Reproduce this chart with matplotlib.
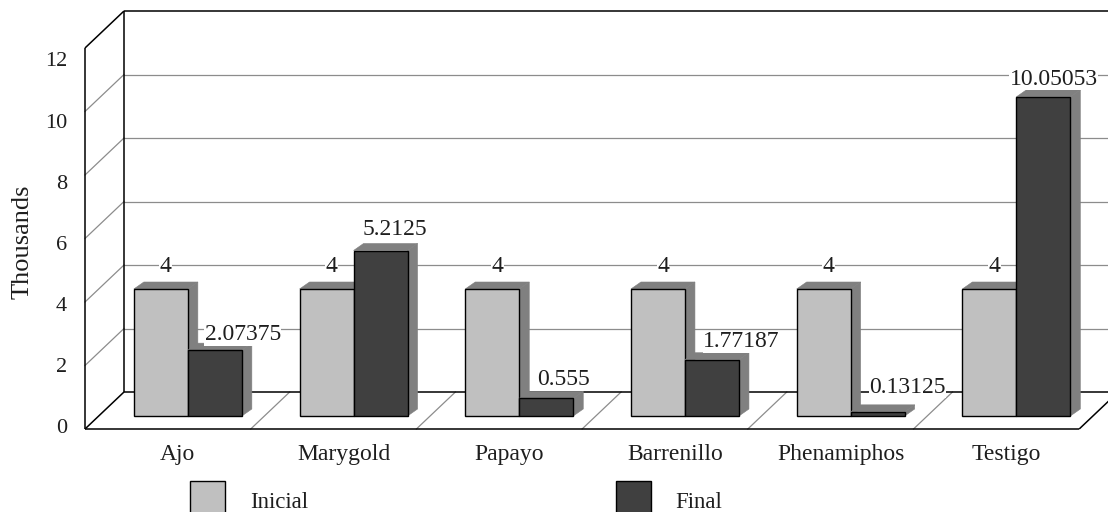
import matplotlib
matplotlib.use("Agg")
import matplotlib.pyplot as plt
from matplotlib.patches import Polygon, Rectangle

# ---- data -------------------------------------------------------------
categories = ["Ajo", "Marygold", "Papayo", "Barrenillo", "Phenamiphos", "Testigo"]
series_names = ["Inicial", "Final"]
inicial = [4, 4, 4, 4, 4, 4]
final = [2.07375, 5.2125, 0.555, 1.77187, 0.13125, 10.05053]
yticks = [0, 2, 4, 6, 8, 10, 12]
y_title = "Thousands"

# ---- look -------------------------------------------------------------
FONT = ["Liberation Serif", "DejaVu Serif"]
TXT = "#1e1e1e"
C_INI = "#c0c0c0"
C_FIN = "#404040"
C_SHADE = "#808080"
C_GRID = "#8c8c8c"

W, H = 1108, 512                # figure size in pixels (dpi 100)
PX_X, PX_Y = 165.7, 31.75       # pixels per category / per thousand
X0, Y0 = 85, 429                # pixel position of the front origin

# oblique depth of the walls and bars, given in pixels, converted to data units
WALL_DX, WALL_DY = 39 / PX_X, 37 / PX_Y
BAR_FX, BAR_FY = 20 / PX_X, 13 / PX_Y
BAR_W = 54 / PX_X
BAR_DX, BAR_DY = 10 / PX_X, 7 / PX_Y

# value-label nudges (pixels) relative to the bar's front top centre
ini_nudge = (5, 17)
fin_nudge_x = [28, 14.5, 17, 29.5, 30, 10.5]
fin_nudge_y = [10, 15.5, 13.5, 12.5, 19, 12]

fig = plt.figure(figsize=(W / 100, H / 100), dpi=100)
ax = fig.add_axes([0, 0, 1, 1])
ax.set_xlim(-X0 / PX_X, (W - X0) / PX_X)
ax.set_ylim(-(H - Y0) / PX_Y, Y0 / PX_Y)
ax.axis("off")

n = len(categories)
ymax = yticks[-1]

# ---- walls, floor and gridlines ----------------------------------------
for v in yticks[1:-1]:
    ax.plot([0, WALL_DX], [v, v + WALL_DY], color=C_GRID, lw=0.9, zorder=1)
    ax.plot([WALL_DX, n + WALL_DX + 1], [v + WALL_DY, v + WALL_DY],
            color=C_GRID, lw=0.9, zorder=1)
for i in range(1, n):
    ax.plot([i, i + WALL_DX], [0, WALL_DY], color=C_GRID, lw=0.9, zorder=1)

frame = dict(color="black", lw=1.1, zorder=2, solid_capstyle="butt")
ax.plot([0, 0], [0, ymax], **frame)
ax.plot([0, WALL_DX], [ymax, ymax + WALL_DY], **frame)
ax.plot([WALL_DX, WALL_DX], [WALL_DY, ymax + WALL_DY], **frame)
ax.plot([WALL_DX, n + WALL_DX + 1], [ymax + WALL_DY, ymax + WALL_DY], **frame)
ax.plot([0, n], [0, 0], **frame)
ax.plot([0, WALL_DX], [0, WALL_DY], **frame)
ax.plot([WALL_DX, n + WALL_DX + 1], [WALL_DY, WALL_DY], **frame)
ax.plot([n, n + WALL_DX], [0, WALL_DY], **frame)


# ---- bars ------------------------------------------------------------
def bar3d(x_left, value, color, z):
    xl = x_left + BAR_FX
    xr = xl + BAR_W
    yb, yt = BAR_FY, value + BAR_FY
    side = [(xr, yb), (xr + BAR_DX, yb + BAR_DY), (xr + BAR_DX, yt + BAR_DY), (xr, yt)]
    top = [(xl, yt), (xl + BAR_DX, yt + BAR_DY), (xr + BAR_DX, yt + BAR_DY), (xr, yt)]
    for pts in (side, top):
        ax.add_patch(Polygon(pts, closed=True, fc=C_SHADE, ec=C_SHADE, lw=0.4, zorder=z))
    ax.add_patch(Rectangle((xl, yb), BAR_W, value, fc=color, ec="black",
                           lw=1.0, zorder=z + 0.5))
    return xl + BAR_W / 2, yt


label_kw = dict(textcoords="offset pixels", ha="center", va="baseline",
                fontsize=17, family=FONT, color=TXT, zorder=20,
                bbox=dict(fc="white", ec="none", pad=0.3))

for i in range(n):
    cx, cy = bar3d(i + 0.5 - BAR_W, inicial[i], C_INI, 3 + i)
    ax.annotate(str(inicial[i]), xy=(cx, cy), xytext=ini_nudge, **label_kw)
    cx, cy = bar3d(i + 0.5, final[i], C_FIN, 3.6 + i)
    ax.annotate(str(final[i]), xy=(cx, cy),
                xytext=(fin_nudge_x[i], fin_nudge_y[i]), **label_kw)

# category names under the floor
for i, name in enumerate(categories):
    ax.text(i + 0.5 + 10 / PX_X, -31 / PX_Y, name, ha="center", va="baseline",
            fontsize=17, family=FONT, color=TXT)

# ---- value axis labels -------------------------------------------------
tick_ax = fig.add_axes([X0 / W, (H - 426) / H, 0.005, (426 - 59.5) / H])
tick_ax.set_ylim(yticks[0], yticks[-1])
tick_ax.set_yticks(yticks)
tick_ax.set_yticklabels([str(t) for t in yticks], family=FONT, fontsize=16, color=TXT)
tick_ax.tick_params(axis="y", length=0, pad=13)
tick_ax.set_xticks([])
for s in tick_ax.spines.values():
    s.set_visible(False)
tick_ax.patch.set_visible(False)

fig.text(23 / W, 1 - 242 / H, y_title, rotation=90, ha="center", va="center",
         fontsize=19, family=FONT, color=TXT)

# ---- legend ------------------------------------------------------------
for name, col, bx, tx in zip(series_names, [C_INI, C_FIN], [190, 616], [250, 675]):
    fig.add_artist(Rectangle((bx / W, 1 - 516 / H), 35 / W, 35 / H, fc=col, ec="black",
                             lw=1.0, transform=fig.transFigure, clip_on=False))
    fig.text(tx / W, 1 - 508 / H, name, ha="left", va="baseline",
             fontsize=16.5, family=FONT, color=TXT)

fig.savefig("out.png", dpi=100)
